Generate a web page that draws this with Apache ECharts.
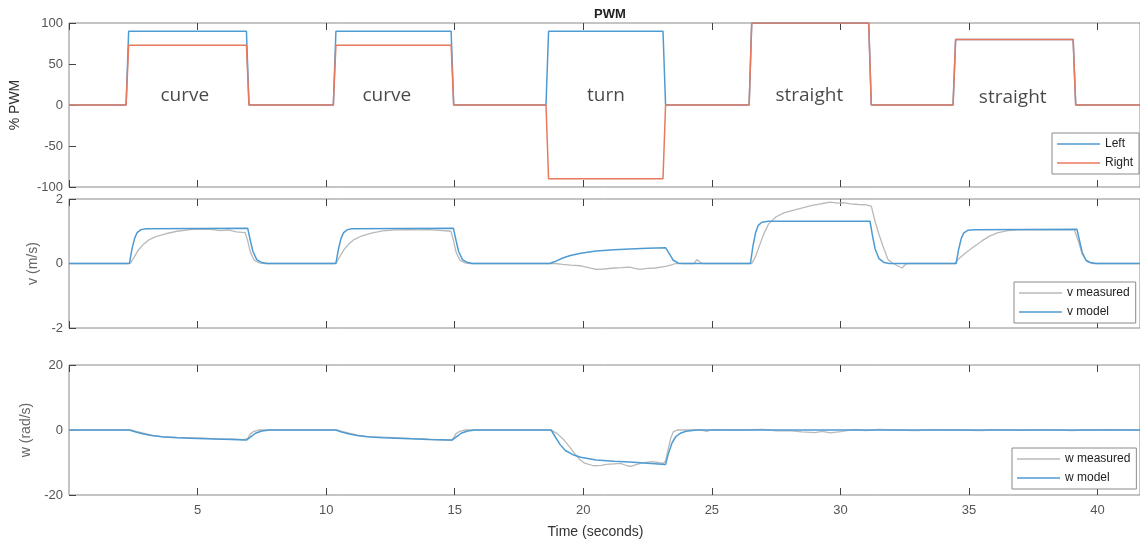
<!DOCTYPE html>
<html><head><meta charset="utf-8">
<script src="https://cdn.jsdelivr.net/npm/echarts@6/dist/echarts.min.js"></script>
<style>html,body{margin:0;padding:0;background:#fff}#c{width:1140px;height:546px}</style>
</head><body><div id="c"></div>
<script>
// ---- data ----
const xTicks = [5, 10, 15, 20, 25, 30, 35, 40];
const pwmLeft = [[0,0],[2.22,0],[2.32,90],[6.9,90],[7.0,0],[10.28,0],[10.38,90],[14.86,90],[14.96,0],[18.55,0],[18.65,90],[23.1,90],[23.2,0],[26.45,0],[26.55,100],[31.1,100],[31.2,0],[34.38,0],[34.48,80],[39.05,80],[39.15,0],[41.7,0]];
const pwmRight = [[0,0],[2.22,0],[2.32,73],[6.9,73],[7.0,0],[10.28,0],[10.38,73],[14.86,73],[14.96,0],[18.55,0],[18.65,-90],[23.1,-90],[23.2,0],[26.45,0],[26.55,100],[31.1,100],[31.2,0],[34.38,0],[34.48,80],[39.05,80],[39.15,0],[41.7,0]];
const vModel = [[0,0],[2.35,0],[2.45,0.45],[2.55,0.78],[2.65,0.96],[2.8,1.05],[3.0,1.08],[6.95,1.09],[7.05,0.72],[7.15,0.38],[7.3,0.12],[7.5,0.03],[7.7,0],
 [10.38,0],[10.48,0.45],[10.58,0.78],[10.68,0.96],[10.83,1.05],[11.0,1.08],[14.95,1.09],[15.05,0.72],[15.15,0.38],[15.3,0.12],[15.5,0.03],[15.7,0],
 [18.7,0],[18.9,0.06],[19.2,0.17],[19.5,0.25],[19.9,0.32],[20.5,0.39],[21.2,0.43],[21.8,0.45],[22.5,0.47],[23.2,0.49],[23.35,0.3],[23.5,0.1],[23.7,0.01],[23.9,0],
 [26.5,0],[26.6,0.55],[26.7,0.95],[26.8,1.18],[26.95,1.28],[27.2,1.31],[31.15,1.31],[31.25,0.85],[31.35,0.45],[31.5,0.15],[31.7,0.03],[31.9,0],
 [34.5,0],[34.6,0.45],[34.7,0.78],[34.8,0.95],[34.95,1.03],[35.2,1.05],[39.2,1.06],[39.3,0.7],[39.4,0.35],[39.55,0.1],[39.75,0.02],[39.95,0],[41.7,0]];
const vMeas = [[0,0],[2.3,0],[2.4,0.03],[2.5,0.15],[2.7,0.42],[2.9,0.6],[3.1,0.73],[3.4,0.84],[3.8,0.93],[4.2,1.0],[4.7,1.05],[5.2,1.07],[5.6,1.05],[5.9,1.02],[6.2,1.04],[6.5,0.98],[6.85,0.96],[6.95,0.7],[7.05,0.36],[7.2,0.1],[7.4,0.02],[7.6,0],
 [10.3,0],[10.4,0.03],[10.5,0.17],[10.7,0.44],[10.9,0.62],[11.1,0.75],[11.4,0.86],[11.8,0.95],[12.2,1.01],[12.7,1.04],[13.2,1.05],[13.6,1.04],[14.0,1.05],[14.4,1.03],[14.85,1.0],[14.95,0.72],[15.05,0.36],[15.2,0.1],[15.4,0.02],[15.6,0],
 [18.7,0],[18.9,0.0],[19.2,-0.03],[19.5,-0.05],[19.9,-0.07],[20.2,-0.13],[20.5,-0.18],[20.8,-0.17],[21.2,-0.14],[21.5,-0.13],[21.8,-0.11],[22.0,-0.15],[22.2,-0.18],[22.5,-0.15],[22.8,-0.14],[23.2,-0.09],[23.4,-0.05],[23.6,0],[24.3,0],[24.42,0.12],[24.48,0.17],[24.55,0.04],[24.65,0],
 [26.55,0],[26.7,0.22],[26.85,0.55],[27.0,0.88],[27.2,1.22],[27.5,1.45],[27.8,1.57],[28.3,1.68],[28.9,1.8],[29.3,1.86],[29.6,1.9],[29.9,1.87],[30.1,1.89],[30.4,1.85],[30.7,1.83],[31.0,1.82],[31.2,1.78],[31.35,1.3],[31.5,0.9],[31.65,0.55],[31.85,0.12],[32.05,0],[32.3,-0.1],[32.4,-0.14],[32.5,-0.05],[32.6,0],
 [34.45,0],[34.6,0.15],[34.9,0.35],[35.2,0.53],[35.5,0.7],[35.8,0.85],[36.1,0.95],[36.5,1.02],[37.0,1.05],[37.5,1.04],[38.0,1.05],[38.5,1.04],[39.1,1.04],[39.25,0.7],[39.4,0.3],[39.6,0.05],[39.8,0],[41.7,0]];
const wModel = [[0,0],[2.35,0],[2.6,-0.6],[2.9,-1.2],[3.2,-1.7],[3.6,-2.1],[4.2,-2.4],[5.0,-2.6],[6.0,-2.85],[6.9,-3.1],[7.05,-2.2],[7.25,-1.0],[7.5,-0.3],[7.8,0],
 [10.38,0],[10.6,-0.6],[10.9,-1.2],[11.2,-1.7],[11.6,-2.1],[12.2,-2.4],[13.0,-2.6],[14.0,-2.9],[14.9,-3.1],[15.05,-2.2],[15.25,-1.0],[15.5,-0.3],[15.8,0],
 [18.75,0],[18.9,-2.0],[19.1,-4.5],[19.3,-6.3],[19.6,-7.6],[19.9,-8.4],[20.5,-9.2],[21.2,-9.6],[21.8,-9.85],[22.5,-10.2],[23.2,-10.6],[23.3,-7.5],[23.45,-4.0],[23.6,-2.0],[23.8,-0.9],[24.0,-0.4],[24.4,0],[41.7,0]];
const wMeas = [[0,0],[2.4,0],[2.6,-0.4],[2.9,-1.0],[3.3,-1.7],[3.7,-2.1],[4.2,-2.3],[4.8,-2.4],[5.3,-2.5],[5.8,-2.8],[6.3,-2.7],[6.8,-3.0],[6.95,-2.6],[7.05,-1.2],[7.2,-0.4],[7.4,0],
 [10.4,0],[10.6,-0.4],[10.9,-1.0],[11.3,-1.7],[11.7,-2.1],[12.2,-2.2],[12.8,-2.4],[13.3,-2.6],[13.8,-2.7],[14.3,-3.0],[14.85,-3.2],[14.95,-2.5],[15.05,-1.1],[15.2,-0.4],[15.4,0],
 [18.75,0],[19.0,-1.2],[19.25,-3.1],[19.5,-5.5],[19.65,-7.1],[19.85,-9.0],[20.05,-10.2],[20.4,-11.0],[20.7,-10.9],[20.9,-10.6],[21.2,-10.4],[21.45,-10.3],[21.7,-11.0],[21.85,-11.2],[22.0,-10.8],[22.25,-10.2],[22.5,-9.9],[22.7,-9.7],[22.9,-10.0],[23.1,-10.3],[23.2,-9.5],[23.3,-6.0],[23.4,-2.5],[23.5,-0.6],[23.65,0],
 [24.6,0],[24.8,-0.4],[25.0,0.1],[26.0,0],[27.0,0.2],[27.5,-0.3],[28.0,-0.2],[28.5,-0.6],[29.0,-0.8],[29.3,-0.4],[29.6,-0.9],[30.0,-0.5],[30.5,0.1],[31.0,-0.2],[31.5,0.2],[32.0,0],[33.0,-0.2],[33.5,0.1],[34.5,0],[35.5,-0.2],[36.0,0.1],[37.0,-0.1],[38.0,0.1],[39.0,-0.2],[39.5,0],[40.5,0.1],[41.7,0]];
const annoText = ['curve', 'curve', 'turn', 'straight', 'straight'];
const annoT = [4.5, 12.36, 20.88, 28.79, 36.7];
const annoY = [12, 12, 11, 12, 9];
const yTicksPWM = [-100, -50, 0, 50, 100];
const yTicksV = [-2, 0, 2];
const yTicksW = [-20, 0, 20];

// ---- chart ----
const FONT = 'Liberation Sans, Arial, sans-serif';
const XMAX = 41.65;
const BLUE = '#4e9bd3', RED = '#e8795f', GRAY = '#b9b9b9';
const grids = [
  {left: 69, top: 23, width: 1077, height: 164},
  {left: 69, top: 199, width: 1077, height: 129},
  {left: 69, top: 365, width: 1077, height: 130}
].map(g => Object.assign(g, {show: true, borderColor: '#8a8a8a', borderWidth: 1, backgroundColor: 'transparent'}));

const xAxes = [];
for (let i = 0; i < 3; i++) {
  ['bottom', 'top'].forEach(pos => {
    xAxes.push({
      type: 'value', gridIndex: i, position: pos, min: 0, max: XMAX, interval: 5,
      axisLine: {show: false, onZero: false}, splitLine: {show: false},
      axisTick: {show: true, inside: true, length: 7, lineStyle: {color: '#444', width: 1}},
      axisLabel: {show: i === 2 && pos === 'bottom', showMinLabel: false, showMaxLabel: false,
        color: '#555', fontSize: 13, fontFamily: FONT, margin: 9,
        formatter: v => xTicks.includes(v) ? String(v) : ''},
      name: (i === 2 && pos === 'bottom') ? 'Time (seconds)' : '',
      nameLocation: 'middle', nameGap: 30,
      nameTextStyle: {color: '#333', fontSize: 14, fontFamily: FONT, padding: [0, 18, 0, 0]}
    });
  });
}
function yAx(i, ticks, name, gap, nameColor) {
  return {
    type: 'value', gridIndex: i, min: ticks[0], max: ticks[ticks.length - 1], interval: ticks[1] - ticks[0],
    axisLine: {show: false, onZero: false}, splitLine: {show: false},
    axisTick: {show: true, inside: true, length: 7, lineStyle: {color: '#444'}},
    axisLabel: {color: '#555', fontSize: 13, fontFamily: FONT, margin: 6},
    name: name, nameLocation: 'middle', nameGap: gap,
    nameTextStyle: {color: nameColor, fontSize: 14, fontFamily: FONT}
  };
}
const yAxes = [yAx(0, yTicksPWM, '% PWM', 47, '#333'), yAx(1, yTicksV, 'v (m/s)', 24, '#666'), yAx(2, yTicksW, 'w (rad/s)', 24, '#666')];

function line(name, data, xi, yi, color, width) {
  return {name, type: 'line', data, xAxisIndex: xi, yAxisIndex: yi, symbol: 'none', showSymbol: false,
    lineStyle: {color, width}, itemStyle: {color}, z: 3, silent: true};
}
function legend(names, left, top) {
  return {data: names, left, top, orient: 'vertical', align: 'left', icon: 'rect', itemWidth: 43, itemHeight: 1.5, itemGap: 5,
    padding: [4, 6, 4, 5], borderColor: '#8a8a8a', borderWidth: 1, backgroundColor: '#fff', selectedMode: false,
    textStyle: {fontSize: 12, color: '#222', fontFamily: FONT, lineHeight: 14}};
}

const option = {
  animation: false,
  backgroundColor: '#fff',
  title: {text: 'PWM', left: 605, top: 3, textAlign: 'center',
    textStyle: {fontSize: 13, fontWeight: 'bold', color: '#222', fontFamily: FONT}},
  grid: grids,
  xAxis: xAxes,
  yAxis: yAxes,
  legend: [legend(['Left', 'Right'], 1052, 133), legend(['v measured', 'v model'], 1014, 282), legend(['w measured', 'w model'], 1012, 448)],
  series: [
    line('Left', pwmLeft, 0, 0, BLUE, 1.5),
    line('Right', pwmRight, 0, 0, RED, 1.5),
    line('v measured', vMeas, 2, 1, GRAY, 1.3),
    line('v model', vModel, 2, 1, BLUE, 1.5),
    line('w measured', wMeas, 4, 2, GRAY, 1.3),
    line('w model', wModel, 4, 2, BLUE, 1.5),
    {type: 'scatter', xAxisIndex: 0, yAxisIndex: 0, symbolSize: 1, itemStyle: {color: 'rgba(0,0,0,0)'}, silent: true,
      data: annoT.map((t, k) => [t, annoY[k]]),
      label: {show: true, position: 'inside', formatter: p => annoText[p.dataIndex],
        fontSize: 19, color: '#1a1a1a', fontFamily: 'Open Sans, Noto Sans, sans-serif'}}
  ]
};
echarts.init(document.getElementById('c'), null, {renderer: 'canvas'}).setOption(option);
</script></body></html>
